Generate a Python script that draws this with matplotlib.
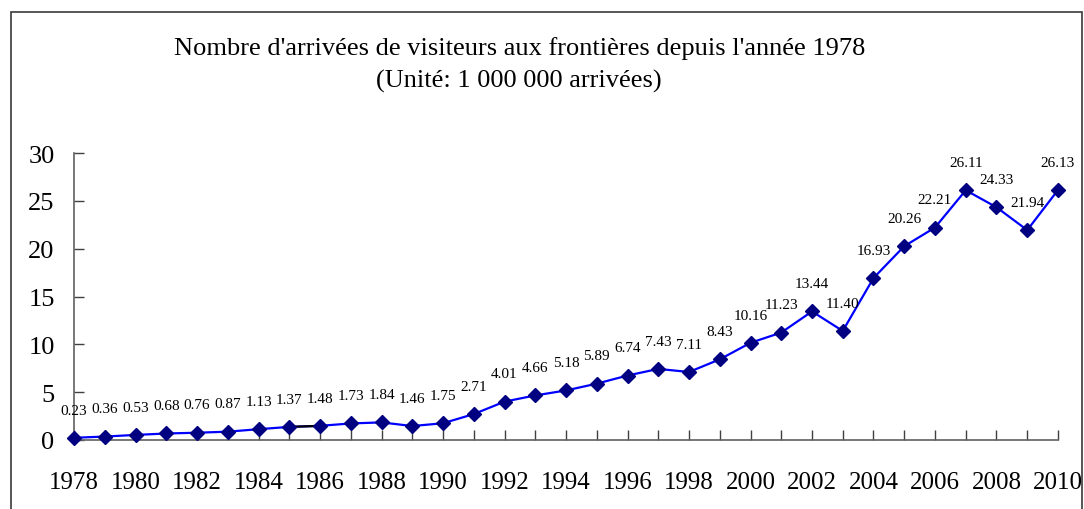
import matplotlib
matplotlib.use("Agg")
import matplotlib.pyplot as plt
from matplotlib.patches import Rectangle

# Data
years = list(range(1978, 2011))
arrivals = [0.23, 0.36, 0.53, 0.68, 0.76, 0.87, 1.13, 1.37, 1.48, 1.73, 1.84,
            1.46, 1.75, 2.71, 4.01, 4.66, 5.18, 5.89, 6.74, 7.43, 7.11, 8.43,
            10.16, 11.23, 13.44, 11.40, 16.93, 20.26, 22.21, 26.11, 24.33,
            21.94, 26.13]
year_ticks = list(range(1978, 2011, 2))
y_ticks = [0, 5, 10, 15, 20, 25, 30]

plt.rcParams['font.family'] = ['Liberation Serif', 'DejaVu Serif']

fig = plt.figure(figsize=(10.84, 5.10), dpi=100)
ax = fig.add_axes([0.0683, 0.1353, 0.9077, 0.5627])

# outer frame of the chart area
fig.patches.append(Rectangle((11 / 1084, -0.05), 1071 / 1084, 1.05 - 13 / 510,
                             transform=fig.transFigure, fill=False,
                             edgecolor='#3a3a3a', linewidth=1.2))

ax.plot(years, arrivals, color='#0000FF', linewidth=1.6, zorder=2)
# one segment drawn in black in the original
ax.plot(years[7:9], arrivals[7:9], color='black', linewidth=1.6, zorder=2)
ax.plot(years, arrivals, linestyle='none', marker='D', markersize=7.5,
        color='#000080', zorder=3)

for x, v in zip(years, arrivals):
    ax.annotate(f"{v:.2f}", (x, v), xytext=(0, 20), textcoords='offset points',
                ha='center', va='center', fontsize=11)

ax.set_xlim(1978, 2010)
ax.set_ylim(0, 30)
ax.set_xticks(years, minor=True)
ax.set_xticks(year_ticks)
ax.set_xticklabels([str(y) for y in year_ticks], fontsize=18)
ax.set_yticks(y_ticks)
ax.set_yticklabels([str(y) for y in y_ticks], fontsize=19)
ax.tick_params(axis='x', which='both', direction='in', length=7, width=1,
               color='#404040', pad=22)
ax.tick_params(axis='x', which='minor', direction='in', length=7)
ax.tick_params(axis='y', direction='in', length=7, width=1, color='#404040', pad=14)

for s in ['top', 'right']:
    ax.spines[s].set_visible(False)
for s in ['left', 'bottom']:
    ax.spines[s].set_color('#606060')
    ax.spines[s].set_linewidth(1.2)
for art in ax.lines:
    art.set_clip_on(False)

fig.text(0.479, 0.905, "Nombre d'arrivées de visiteurs aux frontières depuis l'année 1978",
         ha='center', va='center', fontsize=19)
fig.text(0.479, 0.840, "(Unité: 1 000 000 arrivées)", ha='center', va='center', fontsize=19)

fig.savefig("out.png", dpi=100)
